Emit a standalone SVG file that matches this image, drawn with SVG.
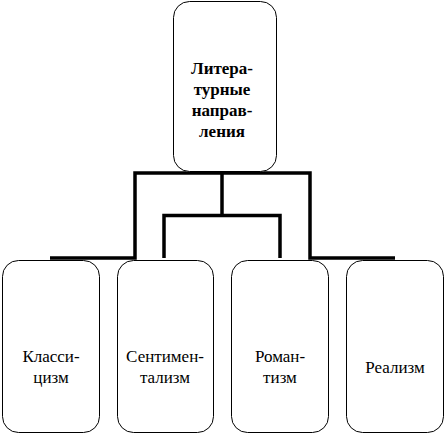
<svg xmlns="http://www.w3.org/2000/svg" width="446" height="434" viewBox="0 0 446 434">
<style>
.box{fill:#fff;stroke:#000;stroke-width:1}
.c{fill:none;stroke:#000;stroke-width:3.5;stroke-linecap:butt;stroke-linejoin:miter}
</style>
<rect width="446" height="434" fill="#fff"/>
<g id="connectors">
<path class="c" d="M50,258 H135 V173 H310 V258 H395"/>
<path class="c" d="M222,173 V215.5"/>
<path class="c" d="M164,258 V215.5 H280 V258"/>
</g>
<g id="root">
<rect class="box" x="173.5" y="1.5" width="103" height="170" rx="16"/>
<g font-family="Liberation Serif, DejaVu Serif, serif" font-size="17" font-weight="bold" text-anchor="middle">
<text x="222" y="74">Литера-</text>
<text x="222" y="95">турные</text>
<text x="222" y="116">направ-</text>
<text x="222" y="137">ления</text>
</g>
</g>
<g font-family="Liberation Serif, DejaVu Serif, serif" font-size="17" text-anchor="middle">
<g id="classicism">
<rect class="box" x="2.5" y="260.5" width="97" height="172" rx="16"/>
<text x="51" y="362">Класси-</text>
<text x="51" y="383">цизм</text>
</g>
<g id="sentimentalism">
<rect class="box" x="117.5" y="260.5" width="96" height="172" rx="16"/>
<text x="165" y="362">Сентимен-</text>
<text x="165" y="383">тализм</text>
</g>
<g id="romanticism">
<rect class="box" x="231.5" y="260.5" width="97" height="172" rx="16"/>
<text x="280" y="362">Роман-</text>
<text x="280" y="383">тизм</text>
</g>
<g id="realism">
<rect class="box" x="346.5" y="260.5" width="97" height="172" rx="16"/>
<text x="395" y="373">Реализм</text>
</g>
</g>
</svg>
